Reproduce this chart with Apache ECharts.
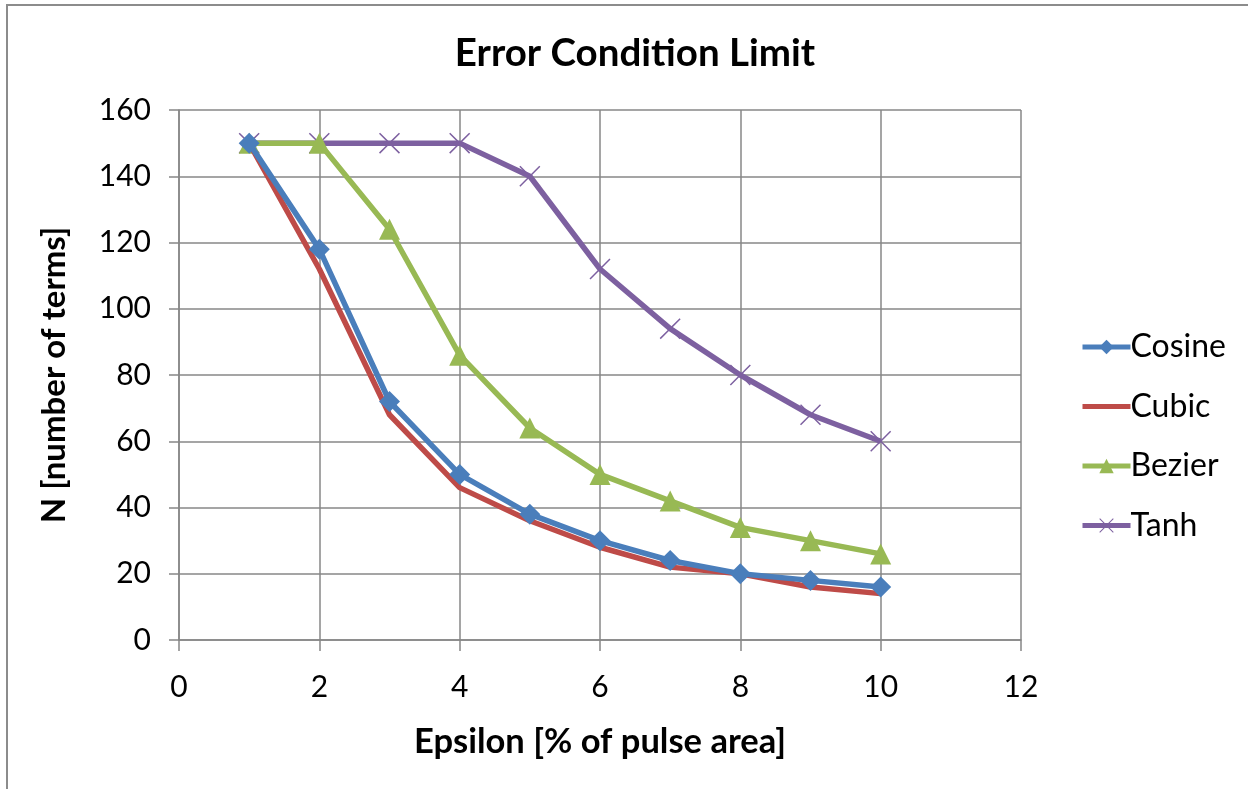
<!DOCTYPE html>
<html>
<head>
<meta charset="utf-8">
<script src="https://cdn.jsdelivr.net/npm/echarts@6/dist/echarts.min.js"></script>
<style>
html,body{margin:0;padding:0;background:#fff;}
#chart{width:1248px;height:789px;}
#frame{position:absolute;left:6px;top:4px;width:1300px;height:900px;border:2px solid #8c8c8c;box-sizing:border-box;pointer-events:none;}
</style>
</head>
<body>
<div id="chart"></div>
<div id="frame"></div>
<script>
const seriesNames = ['Cosine', 'Cubic', 'Bezier', 'Tanh'];
const epsilon = [1, 2, 3, 4, 5, 6, 7, 8, 9, 10];
const cosine = [150, 118, 72, 50, 38, 30, 24, 20, 18, 16];
const cubic  = [150, 112, 68, 46, 36, 28, 22, 20, 16, 14];
const bezier = [150, 150, 124, 86, 64, 50, 42, 34, 30, 26];
const tanh   = [150, 150, 150, 150, 140, 112, 94, 80, 68, 60];
const titleText = 'Error Condition Limit';
const xTitle = 'Epsilon [% of pulse area]';
const yTitle = 'N [number of terms]';

const colors = ['#4A7EBB', '#BE4B48', '#98B954', '#7D60A0'];
const crossPath = 'path://M0,1 L1,0 L10,9 L19,0 L20,1 L11,10 L20,19 L19,20 L10,11 L1,20 L0,19 L9,10 Z';
const symbols = ['diamond', 'none', 'triangle', crossPath];
const symbolSizes = [21, 0, 21, 21];
const valuesList = [cosine, cubic, bezier, tanh];
const plainLineIcon = 'path://M0,0 L0.01,0 L0,0.01 Z M0,6 L48,6 L48,11 L0,11 Z M48,17 L47.99,17 L48,16.99 Z';

const FONT = 'Lato';
const chart = echarts.init(document.getElementById('chart'), null, {renderer: 'canvas'});
chart.setOption({
  animation: false,
  backgroundColor: '#ffffff',
  title: {
    text: titleText,
    left: 630, top: 29, textAlign: 'center',
    textStyle: {fontFamily: FONT, fontSize: 38.5, fontWeight: 'bold', color: '#000'}
  },
  legend: {
    orient: 'vertical',
    left: 1075, top: 326,
    itemWidth: 48, itemHeight: 18,
    itemGap: 27.5,
    lineStyle: {width: 5},
    data: seriesNames.map((n, i) => i === 1 ? {name: n, icon: plainLineIcon} : {name: n}),
    textStyle: {fontFamily: FONT, fontSize: 32, color: '#000', lineHeight: 32, padding: [0,0,0,-5]}
  },
  grid: {left: 179, top: 110, right: 227, bottom: 149, containLabel: false},
  xAxis: {
    type: 'value', min: 0, max: 12, interval: 2,
    name: xTitle, nameLocation: 'middle', nameGap: 84,
    nameTextStyle: {fontFamily: FONT, fontSize: 34.5, fontWeight: 'bold', color: '#000'},
    axisLine: {lineStyle: {color: '#878787', width: 1.5}},
    axisTick: {show: true, length: 11, lineStyle: {color: '#878787', width: 1.5}},
    axisLabel: {fontFamily: FONT, fontSize: 30, color: '#000', margin: 32},
    splitLine: {show: true, lineStyle: {color: '#878787', width: 1.5}}
  },
  yAxis: {
    type: 'value', min: 0, max: 160, interval: 20,
    name: yTitle, nameLocation: 'middle', nameGap: 108, nameRotate: 90,
    nameTextStyle: {fontFamily: FONT, fontSize: 33, fontWeight: 'bold', color: '#000'},
    axisLine: {show: true, lineStyle: {color: '#878787', width: 1.5}},
    axisTick: {show: true, length: 10, lineStyle: {color: '#878787', width: 1.5}},
    axisLabel: {fontFamily: FONT, fontSize: 30, color: '#000', margin: 28},
    splitLine: {show: true, lineStyle: {color: '#878787', width: 1.5}}
  },
  series: seriesNames.map((name, i) => ({
    name: name,
    type: 'line',
    data: epsilon.map((x, j) => [x, valuesList[i][j]]),
    symbol: symbols[i],
    symbolSize: symbolSizes[i],
    showSymbol: symbols[i] !== 'none',
    lineStyle: {color: colors[i], width: 5.5},
    itemStyle: {color: colors[i]},
    z: 10 - i
  }))
});
</script>
</body>
</html>
